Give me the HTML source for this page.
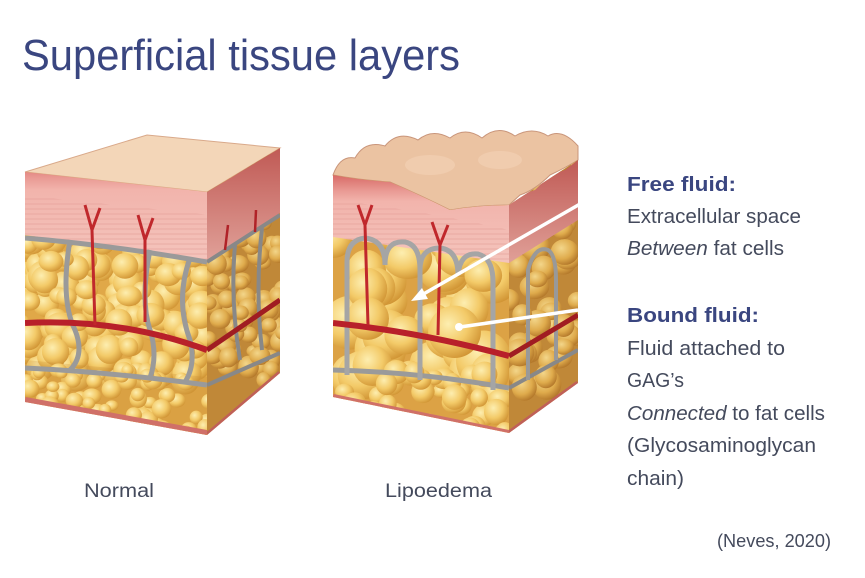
<!DOCTYPE html>
<html><head><meta charset="utf-8"><style>
html,body{margin:0;padding:0;background:#fff;width:865px;height:578px;overflow:hidden}
svg{display:block}
text{font-family:"Liberation Sans",sans-serif}
</style></head><body>
<svg id="s" width="865" height="578" viewBox="0 0 865 578" xmlns="http://www.w3.org/2000/svg">
<defs>
<radialGradient id="cell" cx="0.38" cy="0.35" r="0.7">
<stop offset="0" stop-color="#fdeeb0"/><stop offset="0.55" stop-color="#f3ca68"/><stop offset="1" stop-color="#cf9232"/></radialGradient>
<radialGradient id="cellD" cx="0.38" cy="0.35" r="0.7">
<stop offset="0" stop-color="#f3d68a"/><stop offset="0.6" stop-color="#dfab4c"/><stop offset="1" stop-color="#b07428"/></radialGradient>
<linearGradient id="skin" x1="0" y1="0" x2="0" y2="1">
<stop offset="0" stop-color="#d86a66"/><stop offset="0.18" stop-color="#e99a94"/><stop offset="0.3" stop-color="#f2b4ac"/><stop offset="1" stop-color="#f4c4bc"/></linearGradient>
<linearGradient id="skinS" x1="0" y1="0" x2="0" y2="1">
<stop offset="0" stop-color="#c05a55"/><stop offset="1" stop-color="#e0a098"/></linearGradient>
<pattern id="stripes" width="8" height="5" patternUnits="userSpaceOnUse"><rect width="8" height="5" fill="none"/><line x1="0" y1="4" x2="8" y2="4" stroke="#e39d96" stroke-width="1"/></pattern>
<clipPath id="lf"><polygon points="25,172 207,192 207,435 25,402"/></clipPath>
<clipPath id="ls"><polygon points="207,192 280,148 280,373 207,435"/></clipPath>
<clipPath id="rf"><path d="M333,175 Q360,180 390,182 Q420,195 450,210 Q480,205 509,205 L509,433 L333,397 Z"/></clipPath>
<clipPath id="rs"><polygon points="509,205 578,160 578,383 509,433"/></clipPath>
</defs>

<text x="22" y="70" font-size="44" fill="#3a4680" textLength="438" lengthAdjust="spacingAndGlyphs">Superficial tissue layers</text>

<!-- LEFT CUBE -->
<polygon points="25,172 147,135 280,148 207,192" fill="#f3d6b8" stroke="#d9a98a"/>
<g clip-path="url(#lf)">
<rect x="20" y="160" width="200" height="290" fill="#e0a848"/>
<g id="lfc"></g>
<polygon points="25,360 207,377 207,440 25,410" fill="#c98d35" opacity="0.25"/>
<g id="lfb"></g>
<polygon points="20,160 210,180 207,260 25,235" fill="url(#skin)"/>
<polygon points="20,195 210,215 207,260 25,235" fill="url(#stripes)" opacity="0.6"/>
<path d="M25,238 Q110,245 207,262" stroke="#9a9a9a" stroke-width="5" fill="none"/>
<path d="M25,368 Q110,372 207,385" stroke="#9a9a9a" stroke-width="5" fill="none"/>
<path d="M25,400 L207,433" stroke="#d07068" stroke-width="6" fill="none"/>
<path d="M70,240 Q60,300 75,330 Q85,355 70,370 M150,250 Q140,300 150,330 Q158,355 150,378 M190,258 Q175,300 190,340 Q196,365 185,382" stroke="#9a9a9a" stroke-width="5" fill="none"/>
<path d="M25,323 Q120,318 207,350" stroke="#b8202a" stroke-width="6" fill="none"/>
<path d="M95,325 L92,230 M92,230 L85,205 M92,230 L100,208 M145,322 L145,240 M145,240 L138,215 M145,240 L153,218" stroke="#c0282c" stroke-width="3" fill="none"/>
</g>
<g clip-path="url(#ls)">
<rect x="200" y="140" width="90" height="300" fill="#c08838"/>
<g id="lsc"></g>
<polygon points="207,192 280,148 280,213 207,260" fill="url(#skinS)"/>
<path d="M207,262 L280,215 M207,385 L280,353" stroke="#888" stroke-width="4" fill="none"/>
<path d="M235,245 Q230,300 240,360 M262,228 Q255,290 262,350" stroke="#888" stroke-width="4" fill="none"/>
<path d="M207,350 L280,300" stroke="#a01c22" stroke-width="5" fill="none"/>
<path d="M225,250 L228,225 M255,232 L256,210" stroke="#b02228" stroke-width="2.5"/>
<path d="M207,435 L280,373" stroke="#c06058" stroke-width="5"/>
</g>

<!-- RIGHT CUBE -->
<path d="M333,175 Q340,155 355,158 Q365,140 385,146 Q398,130 418,140 Q432,128 450,138 Q465,126 482,138 Q498,124 515,136 Q532,126 548,136 Q562,128 578,146 L578,160 Q565,168 550,175 Q535,190 520,195 L509,205 Q480,205 450,210 Q420,195 390,182 Q360,180 333,175 Z" fill="#ebc3a2" stroke="#c9957a"/>
<ellipse cx="430" cy="165" rx="25" ry="10" fill="#f0ccae"/>
<ellipse cx="500" cy="160" rx="22" ry="9" fill="#f0ccae"/>
<g clip-path="url(#rf)">
<rect x="330" y="170" width="185" height="270" fill="#dca245"/>
<g id="rfc"></g>
<g id="rfb"></g>
<path d="M333,175 Q360,180 390,182 Q420,195 450,210 Q480,205 509,205 L509,263 L333,237 Z" fill="url(#skin)"/>
<path d="M333,200 Q420,210 509,230 L509,263 L333,237 Z" fill="url(#stripes)" opacity="0.6"/>
<path d="M333,370 Q420,372 509,388" stroke="#9a9a9a" stroke-width="5" fill="none"/>
<path d="M347,375 L347,262 Q347,240 365,238 Q385,240 385,265 Q385,240 405,242 Q420,245 420,270 L420,380 M420,270 Q420,248 440,248 Q458,250 458,275 Q460,252 478,254 Q493,258 493,282 L493,390" stroke="#a5a5a5" stroke-width="5" fill="none"/>
<path d="M333,323 Q420,332 509,356" stroke="#b8202a" stroke-width="6" fill="none"/>
<path d="M368,325 L365,225 M365,225 L358,205 M365,225 L372,205 M438,335 L440,245 M440,245 L432,222 M440,245 L448,225" stroke="#c0282c" stroke-width="3" fill="none"/>
<path d="M333,397 L509,433" stroke="#d07068" stroke-width="6"/>
</g>
<g clip-path="url(#rs)">
<rect x="505" y="150" width="80" height="290" fill="#c08838"/>
<g id="rsc"></g>
<polygon points="509,205 520,195 535,190 550,175 565,170 578,160 578,220 509,263" fill="url(#skinS)"/>
<path d="M509,388 L578,350" stroke="#888" stroke-width="4" fill="none"/>
<path d="M528,380 L528,270 Q535,245 548,250 Q556,255 556,280 L556,360" stroke="#999" stroke-width="4" fill="none"/>
<path d="M509,356 L578,315" stroke="#a01c22" stroke-width="5"/>
<path d="M509,433 L578,383" stroke="#c06058" stroke-width="5"/>
</g>

<!-- arrows -->
<line x1="587" y1="200" x2="420" y2="296" stroke="#fff" stroke-width="3.5"/>
<polygon points="411,301 422,288 428,299" fill="#fff"/>
<line x1="578" y1="310" x2="460" y2="327" stroke="#fff" stroke-width="3.5"/>
<circle cx="459" cy="327" r="4" fill="#fff"/>

<text x="84" y="497" font-size="19" fill="#444a5c" textLength="70" lengthAdjust="spacingAndGlyphs">Normal</text>
<text x="385" y="497" font-size="19" fill="#444a5c" textLength="107" lengthAdjust="spacingAndGlyphs">Lipoedema</text>

<g font-size="20" fill="#444a5c">
<text x="627" y="191" font-weight="bold" fill="#3a4680" textLength="109" lengthAdjust="spacingAndGlyphs">Free fluid:</text>
<text x="627" y="223" textLength="174" lengthAdjust="spacingAndGlyphs">Extracellular space</text>
<text x="627" y="255" textLength="157" lengthAdjust="spacingAndGlyphs"><tspan font-style="italic">Between</tspan> fat cells</text>
<text x="627" y="322" font-weight="bold" fill="#3a4680" textLength="132" lengthAdjust="spacingAndGlyphs">Bound fluid:</text>
<text x="627" y="355" textLength="158" lengthAdjust="spacingAndGlyphs">Fluid attached to</text>
<text x="627" y="387" textLength="57" lengthAdjust="spacingAndGlyphs">GAG’s</text>
<text x="627" y="420" textLength="198" lengthAdjust="spacingAndGlyphs"><tspan font-style="italic">Connected</tspan> to fat cells</text>
<text x="627" y="452" textLength="189" lengthAdjust="spacingAndGlyphs">(Glycosaminoglycan</text>
<text x="627" y="485" textLength="57" lengthAdjust="spacingAndGlyphs">chain)</text>
<text x="717" y="547" font-size="18" textLength="114" lengthAdjust="spacingAndGlyphs">(Neves, 2020)</text>
</g>
</svg>
<script>
var seed=7;function r(){seed=(seed*16807)%2147483647;return seed/2147483647;}
var NS="http://www.w3.org/2000/svg";
function fill(id,x0,x1,y0,y1,rmin,rmax,n,g){var el=document.getElementById(id);
for(var i=0;i<n;i++){var e=document.createElementNS(NS,"ellipse");var rr=rmin+r()*(rmax-rmin);
e.setAttribute("cx",x0+r()*(x1-x0));e.setAttribute("cy",y0+r()*(y1-y0));e.setAttribute("rx",rr);e.setAttribute("ry",rr*(0.8+r()*0.3));
e.setAttribute("fill","url(#"+g+")");el.appendChild(e);}}
fill("lfc",20,212,230,380,9,15,150,"cell");
fill("lfb",20,212,370,440,6,10,90,"cell");
fill("lsc",205,285,150,380,7,11,90,"cellD");
fill("rfc",330,512,230,380,18,28,40,"cell");
fill("rfb",330,512,372,440,8,13,60,"cell");
fill("rsc",505,582,160,390,9,15,50,"cellD");
</script>
</body></html>
